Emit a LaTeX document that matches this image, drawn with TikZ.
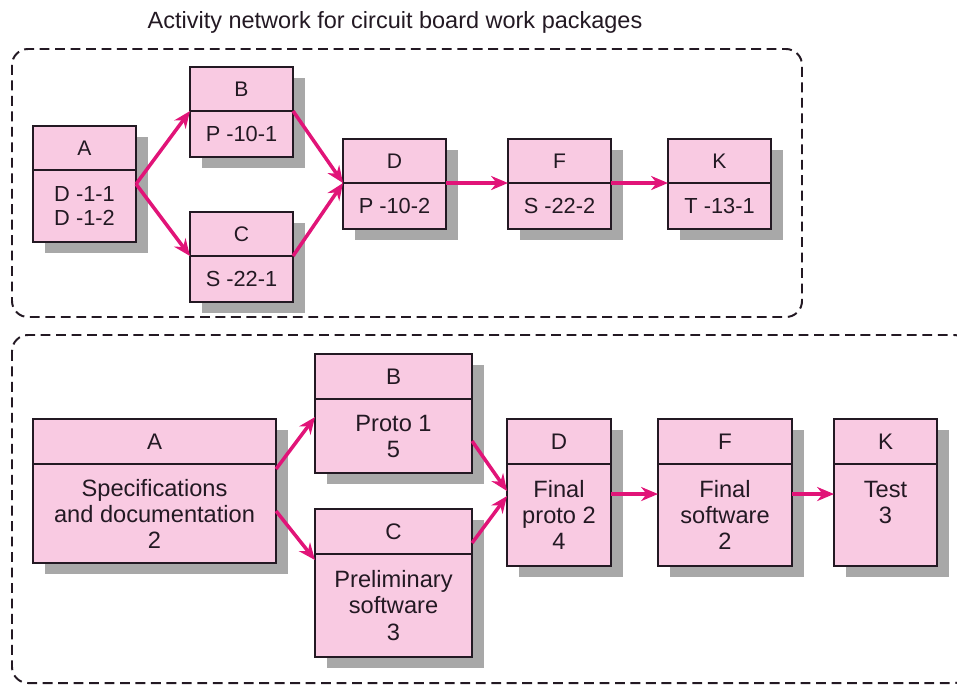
\documentclass[tikz,border=0pt]{standalone}
\usepackage{fontspec}
\setmainfont{Liberation Sans}
\usetikzlibrary{positioning}
\usetikzlibrary{calc}
\usetikzlibrary{arrows.meta}
\usetikzlibrary{shadows}
\definecolor{boxpink}{RGB}{249,202,226}
\definecolor{arrowpink}{RGB}{225,20,120}
\definecolor{shadowgray}{RGB}{168,168,168}
\definecolor{inkdark}{RGB}{35,25,35}

\begin{document}
\begin{tikzpicture}[x=0.025cm, y=-0.025cm,
    pkg/.style={draw=inkdark, line width=1.5pt, fill=boxpink, text=inkdark, outer sep=0pt, inner sep=0pt, align=center,
        drop shadow={shadow xshift=0.3cm, shadow yshift=-0.28cm, fill=shadowgray, opacity=1}},
    headS/.style={pkg, anchor=north west, minimum width=2.575cm, minimum height=1.1cm, font=\fontsize{15}{17}\selectfont},
    bodyS/.style={pkg, minimum width=2.575cm, minimum height=1.15cm, font=\fontsize{15.5}{16.5}\selectfont},
    headL/.style={pkg, anchor=north west, minimum height=1.125cm, font=\fontsize{16}{18}\selectfont},
    bodyL/.style={pkg, minimum height=2.55cm, font=\fontsize{16.8}{18.5}\selectfont},
    link/.style={draw=arrowpink, line width=2.5pt, -{Stealth[length=12pt, width=10pt]}},
    panel/.style={draw=inkdark, line width=1.4pt, dash pattern=on 7pt off 4pt, rounded corners=0.4cm}]
    \useasboundingbox (0,0) rectangle (957,686);

    \node[font=\fontsize{16.7}{19}\selectfont, text=inkdark] (title) at (395,22) {Activity network for circuit board work packages};

    \draw[panel] (12,49) rectangle (802,317);
    \draw[panel] (12,335) rectangle (970,683);

    % circuit board work packages
    \node[headS] (tA) at (33,126) {A};
    \node[bodyS, minimum height=1.8cm, below=0pt of tA] (tAb) {D -1-1\\D -1-2};
    \node[headS] (tB) at (190,67) {B};
    \node[bodyS, below=0pt of tB] (tBb) {P -10-1};
    \node[headS] (tC) at (190,212) {C};
    \node[bodyS, below=0pt of tC] (tCb) {S -22-1};
    \node[headS] (tD) at (343,139) {D};
    \node[bodyS, below=0pt of tD] (tDb) {P -10-2};
    \node[headS] (tF) at (508,139) {F};
    \node[bodyS, below=0pt of tF] (tFb) {S -22-2};
    \node[headS] (tK) at (668,139) {K};
    \node[bodyS, below=0pt of tK] (tKb) {T -13-1};

    \draw[link] ($(tA.north east)!0.5!(tAb.south east)$) -- (tB.south west);
    \draw[link] ($(tA.north east)!0.5!(tAb.south east)$) -- (tC.south west);
    \draw[link] (tB.south east) -- (tD.south west);
    \draw[link] (tC.south east) -- (tD.south west);
    \draw[link] (tD.south east) -- (tF.south west);
    \draw[link] (tF.south east) -- (tK.south west);

    % activities
    \node[headL, minimum width=6.075cm] (bA) at (33,419) {A};
    \node[bodyL, minimum width=6.075cm, minimum height=2.475cm, below=0pt of bA] (bAb) {Specifications\\and documentation\\2};
    \node[headL, minimum width=3.925cm] (bB) at (315,354) {B};
    \node[bodyL, minimum width=3.925cm, minimum height=1.85cm, below=0pt of bB] (bBb) {Proto 1\\5};
    \node[headL, minimum width=3.925cm] (bC) at (315,509) {C};
    \node[bodyL, minimum width=3.925cm, minimum height=2.575cm, below=0pt of bC] (bCb) {Preliminary\\software\\3};
    \node[headL, minimum width=2.6cm] (bD) at (507,419) {D};
    \node[bodyL, minimum width=2.6cm, below=0pt of bD] (bDb) {Final\\proto 2\\4};
    \node[headL, minimum width=3.35cm] (bF) at (658,419) {F};
    \node[bodyL, minimum width=3.35cm, below=0pt of bF] (bFb) {Final\\software\\2};
    \node[headL, minimum width=2.575cm] (bK) at (834,419) {K};
    \node[bodyL, minimum width=2.575cm, below=0pt of bK] (bKb) {Test\\3\\\phantom{3}};

    \draw[link] ($(bAb.north east)+(0,5)$) -- ($(bBb.north west)+(0,18)$);
    \draw[link] ($(bAb.north east)+(0,47)$) -- ($(bCb.north west)+(0,6)$);
    \draw[link] ($(bBb.north east)+(0,42)$) -- ($(bDb.north west)+(0,27)$);
    \draw[link] ($(bCb.north east)+(0,-11)$) -- ($(bDb.north west)+(0,32)$);
    \draw[link] ($(bDb.north east)+(0,30)$) -- ($(bFb.north west)+(0,30)$);
    \draw[link] ($(bFb.north east)+(0,30)$) -- ($(bKb.north west)+(0,30)$);
\end{tikzpicture}
\end{document}
